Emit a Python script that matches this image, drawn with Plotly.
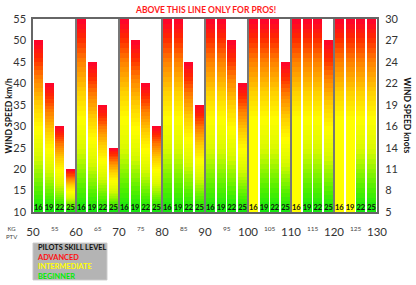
import plotly.graph_objects as go

# ---------------- data ----------------
pilot_weights = [50, 60, 70, 80, 90, 100, 110, 120]          # kg PTV group start
wing_sizes = [16, 19, 22, 25]                                 # m2
max_wind_kmh = [
    [50, 40, 30, 20],
    [55, 45, 35, 25],
    [55, 50, 40, 30],
    [55, 55, 45, 35],
    [55, 55, 50, 40],
    [55, 55, 55, 45],
    [55, 55, 55, 50],
    [55, 55, 55, 55],
]
# lowest skill level allowed (B = beginner, I = intermediate)
min_skill = [
    ["B", "B", "B", "B"],
    ["B", "B", "B", "B"],
    ["B", "B", "B", "B"],
    ["B", "B", "B", "B"],
    ["B", "B", "B", "B"],
    ["I", "B", "B", "B"],
    ["I", "B", "B", "B"],
    ["I", "I", "B", "B"],
]
kmh_ticks = [10, 15, 20, 25, 30, 35, 40, 45, 50, 55]
knots_labels = ["5", "8", "11", "14", "16", "19", "22", "24", "27", "30"]
major_x = [50, 60, 70, 80, 90, 100, 110, 120, 130]
minor_x = [55, 65, 75, 85, 95, 105, 115, 125, 135]
legend_lines = [("PILOTS SKILL LEVEL", "#111111"), ("ADVANCED", "#ff1010"),
                ("INTERMEDIATE", "#ffff00"), ("BEGINNER", "#00ee00")]

# ---------------- helpers ----------------
FONT = "Lato"
Y0 = 10
K = 40  # gradient slices per bar


def hex2rgb(h):
    h = h.lstrip("#")
    return tuple(int(h[i:i + 2], 16) for i in (0, 2, 4))


scale_B = [(0.0, "#10e810"), (0.12, "#50f000"), (0.32, "#d8fa00"), (0.48, "#ffff00"),
           (0.62, "#ffd000"), (0.78, "#ff8000"), (0.9, "#ff2800"), (1.0, "#ff0030")]
scale_I = [(0.0, "#ffff00"), (0.48, "#ffff00"), (0.62, "#ffd000"), (0.78, "#ff8000"),
           (0.9, "#ff2800"), (1.0, "#ff0030")]


def interp(scale, f):
    for (a, ca), (b, cb) in zip(scale[:-1], scale[1:]):
        if f <= b:
            t = (f - a) / (b - a) if b > a else 0
            r1, g1, b1 = hex2rgb(ca)
            r2, g2, b2 = hex2rgb(cb)
            return "rgb(%d,%d,%d)" % (r1 + (r2 - r1) * t, g1 + (g2 - g1) * t, b1 + (b2 - b1) * t)
    return scale[-1][1]


xs, vals, skills, labels = [], [], [], []
for g, w in enumerate(pilot_weights):
    for j, s in enumerate(wing_sizes):
        xs.append(w + 2.5 * j + 1.25)
        vals.append(max_wind_kmh[g][j])
        skills.append(min_skill[g][j])
        labels.append(str(s))

fig = go.Figure()
for k in range(K):
    f0 = k / K
    bases = [Y0 + (v - Y0) * f0 for v in vals]
    heights = [v - b for v, b in zip(vals, bases)]
    cols = [interp(scale_B if sk == "B" else scale_I, f0 + 0.5 / K) for sk in skills]
    fig.add_trace(go.Bar(x=xs, y=heights, base=bases, width=2.1,
                         marker=dict(color=cols, line=dict(width=0)),
                         showlegend=False, hoverinfo="skip"))

# wing size labels
fig.add_trace(go.Scatter(x=xs, y=[10.95] * len(xs), mode="text",
                         text=["<b>%s</b>" % t for t in labels],
                         textfont=dict(family=FONT, size=7.5, color="#111111"),
                         showlegend=False, hoverinfo="skip"))
# invisible trace for right axis
fig.add_trace(go.Scatter(x=[50], y=[10], yaxis="y2", mode="markers",
                         marker=dict(opacity=0), showlegend=False, hoverinfo="skip"))

# group separators
for w in pilot_weights[1:]:
    fig.add_shape(type="line", x0=w, x1=w, y0=Y0, y1=55, xref="x", yref="y",
                  line=dict(color="#4a4a4a", width=1.5), layer="above")

# minor x labels
for m in minor_x:
    fig.add_annotation(x=m, y=-0.083, xref="x", yref="paper", text=str(m),
                       xanchor="center", yanchor="middle",
                       showarrow=False, font=dict(family=FONT, size=6.5, color="#444444"))

fig.add_annotation(x=-0.061, y=-0.108, xref="paper", yref="paper", text="KG<br>PTV",
                   xanchor="center", yanchor="middle",
                   showarrow=False, font=dict(family=FONT, size=6, color="#444444"))
fig.add_annotation(x=-0.07, y=0.5, xref="paper", yref="paper", text="<b>WIND SPEED km/h</b>",
                   xanchor="center", yanchor="middle",
                   textangle=-90, showarrow=False, font=dict(family=FONT, size=8.5, color="#111111"))
fig.add_annotation(x=1.09, y=0.5, xref="paper", yref="paper", text="<b>WIND SPEED knots</b>",
                   xanchor="center", yanchor="middle",
                   textangle=90, showarrow=False, font=dict(family=FONT, size=8.5, color="#111111"))
fig.add_annotation(x=0.5, y=1.048, xref="paper", yref="paper",
                   xanchor="center", yanchor="middle",
                   text="<b>ABOVE THIS LINE ONLY FOR PROS!</b>", showarrow=False,
                   font=dict(family=FONT, size=8.5, color="#ff1a1a"))

# legend box
fig.add_shape(type="rect", xref="paper", yref="paper", x0=0.0, x1=0.215, y0=-0.352, y1=-0.161,
              fillcolor="#b4b4b4", line=dict(color="#c8c8c8", width=1))
legend_text = "<br>".join('<span style="color:%s">%s</span>' % (c, t)
                          for t, c in legend_lines)
fig.add_annotation(x=0.009, y=(212 - 261.5) / 193, xref="paper", yref="paper",
                   xanchor="left", yanchor="middle", align="left", text=legend_text,
                   showarrow=False, borderpad=0,
                   font=dict(family=FONT, size=7.4, color="#111111", weight="bold"))

fig.update_layout(
    width=416, height=285,
    margin=dict(l=33, r=39, t=19, b=73),
    paper_bgcolor="white", plot_bgcolor="white",
    barmode="overlay", bargap=0,
    xaxis=dict(range=[50, 130], tickvals=major_x, ticktext=[str(v) for v in major_x],
               showgrid=False, zeroline=False, ticks="outside", ticklen=8,
               tickcolor="rgba(0,0,0,0)", tickfont=dict(family=FONT, size=11.5, color="#333333"),
               showline=True, linecolor="#666666", linewidth=1.5, mirror=True),
    yaxis=dict(range=[10, 55], tickvals=kmh_ticks, ticktext=[str(v) for v in kmh_ticks],
               showgrid=False, zeroline=False, ticks="outside", ticklen=3,
               tickcolor="rgba(0,0,0,0)", tickfont=dict(family=FONT, size=11, color="#333333"),
               showline=True, linecolor="#666666", linewidth=1.5, mirror=True),
    yaxis2=dict(range=[10, 55], overlaying="y", side="right", tickvals=kmh_ticks,
                ticktext=knots_labels, showgrid=False, zeroline=False, ticks="outside",
                ticklen=5, tickcolor="rgba(0,0,0,0)",
                tickfont=dict(family=FONT, size=11, color="#333333")),
)

fig.write_html("out.html")
